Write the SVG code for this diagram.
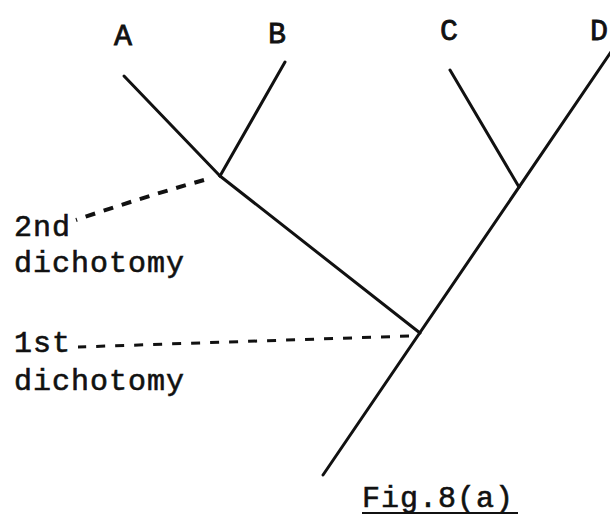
<svg xmlns="http://www.w3.org/2000/svg" width="610" height="515" viewBox="0 0 610 515">
<style>
.t{font-family:"Liberation Mono","Courier New",monospace;font-size:30px;fill:#111;stroke:#111;stroke-width:0.6;letter-spacing:1px}
.lbl{font-family:"Liberation Mono","Courier New",monospace;font-size:30px;fill:#111;stroke:#111;stroke-width:0.8;text-anchor:middle}
.br{stroke:#111;stroke-width:3;stroke-linecap:round;fill:none}
.d2{stroke:#111;stroke-width:4;fill:none;stroke-dasharray:10 9}
.d1{stroke:#111;stroke-width:3;fill:none;stroke-dasharray:9 10}
</style>
<rect width="610" height="515" fill="#fff"/>
<g id="A"><text class="lbl" x="123" y="45">A</text></g>
<g id="B"><text class="lbl" x="277" y="43">B</text></g>
<g id="C"><text class="lbl" x="449" y="40">C</text></g>
<g id="D"><text class="lbl" x="599" y="40">D</text></g>
<g id="label2"><text class="t" x="14" y="236">2nd</text><text class="t" x="14" y="272">dichotomy</text></g>
<g id="label1"><text class="t" x="14" y="352">1st</text><text class="t" x="14" y="390">dichotomy</text></g>
<g id="caption"><text class="t" x="362" y="507">Fig.8(a)</text><line x1="362" y1="513" x2="518" y2="513" stroke="#111" stroke-width="2"/></g>
<g id="connectors">
<line class="br" x1="124" y1="76" x2="220" y2="176"/>
<line class="br" x1="285" y1="62" x2="220" y2="176"/>
<line class="br" x1="220" y1="176" x2="420" y2="333"/>
<line class="br" x1="450" y1="70" x2="519" y2="187"/>
<line class="br" x1="323" y1="475" x2="613" y2="49"/>
<path class="d2" d="M204 180 Q140 198 76 220"/>
<path class="d1" d="M409 336 L78 347"/>
</g>
</svg>
